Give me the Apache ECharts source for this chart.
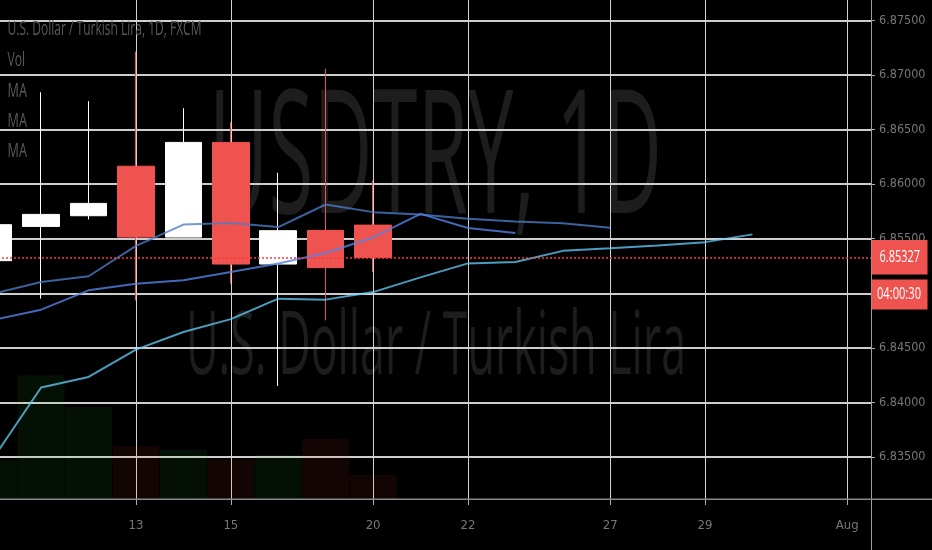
<!DOCTYPE html>
<html><head><meta charset="utf-8">
<script src="https://cdn.jsdelivr.net/npm/echarts@6/dist/echarts.min.js"></script>
<style>html,body{margin:0;padding:0;background:#000;overflow:hidden}#c{width:932px;height:550px}</style>
</head><body><div id="c"></div>
<script>
// ---- data ----
const categories = ['8','9','10','13','14','15','16','17','20','21','22','23','24','27','28','29','30','31','Aug'];
const shownLabels = ['13','15','20','22','27','29','Aug'];
// [open, close, low, high]
const candles = [
  [6.85299, 6.85629, 6.85180, 6.85760],
  [6.85613, 6.85723, 6.84951, 6.86843],
  [6.85711, 6.85824, 6.85677, 6.86761],
  [6.86165, 6.85515, 6.84935, 6.87216],
  [6.85515, 6.86383, 6.85515, 6.86697],
  [6.86383, 6.85268, 6.85088, 6.86568],
  [6.85268, 6.85574, 6.84150, 6.86105],
  [6.85577, 6.85235, 6.84752, 6.87058],
  [6.85625, 6.85327, 6.85195, 6.86034]
];
const volumes = [19.5, 62, 46, 26.5, 24.5, 19.5, 22, 30, 12];
const maA = [6.84998, 6.85103, 6.85156, 6.85435, 6.85630, 6.85645, 6.85607, 6.85814, 6.85744, 6.85722, 6.85684, 6.85657, 6.85643, 6.85601, null, null, null, null, null];
const maB = [6.84756, 6.84850, 6.85027, 6.85088, 6.85119, 6.85195, 6.85274, 6.85370, 6.85512, 6.85728, 6.85599, 6.85552, null, null, null, null, null, null, null];
const maC = [6.83495, 6.84136, 6.84233, 6.84484, 6.84645, 6.84763, 6.84951, 6.84942, 6.85011, 6.85146, 6.85274, 6.85286, 6.85389, 6.85412, 6.85439, 6.85469, 6.85540, null, null];
const yMin = 6.825, yMax = 6.88, yStep = 0.005;
const firstShownTick = 6.835;
const countdown = '04:00:30';
const titleText = 'U.S. Dollar / Turkish Lira, 1D, FXCM';
const legendTexts = ['Vol', 'MA', 'MA', 'MA'];
const watermark1 = 'USDTRY, 1D';
const watermark2 = 'U.S. Dollar / Turkish Lira';

// ---- chart ----
const chart = echarts.init(document.getElementById('c'), null, {renderer: 'canvas'});
const AXIS_FONT = "'Liberation Sans Narrow','DejaVu Sans Condensed','Roboto Condensed',sans-serif";
const showIdx = (i) => shownLabels.indexOf(categories[i]) >= 0;
const yTickColors = ['rgba(0,0,0,0)', 'rgba(0,0,0,0)'].concat(Array(12).fill('#cdcdcd'));
const RED = '#ef5350';
const lastPrice = candles[candles.length - 1][1];

const option = {
  backgroundColor: '#000',
  animation: false,
  grid: [
    {left: -30, right: 61, top: -34, bottom: -16.05, outerBoundsMode: 'none'},
    {left: -30, right: 61, top: 0, bottom: 51, outerBoundsMode: 'none'}
  ],
  xAxis: [
    {type: 'category', gridIndex: 0, data: categories, boundaryGap: true,
     axisLine: {show: false}, axisTick: {show: false}, axisLabel: {show: false}, splitLine: {show: false}},
    {type: 'category', gridIndex: 1, data: categories, boundaryGap: true,
     axisLine: {show: false},
     axisTick: {show: true, alignWithLabel: true, interval: (i) => showIdx(i), length: 6, lineStyle: {color: '#b0b0b0'}},
     axisLabel: {interval: (i) => showIdx(i), color: '#777', fontSize: 13, fontFamily: AXIS_FONT, margin: 20},
     splitLine: {show: true, alignWithLabel: true, interval: (i) => showIdx(i), lineStyle: {color: '#d2d2d2', width: 1}}}
  ],
  yAxis: [
    {type: 'value', gridIndex: 0, position: 'right', min: yMin, max: yMax, interval: yStep,
     axisLine: {show: false},
     axisTick: {show: true, length: 4, lineStyle: {color: '#b0b0b0'}},
     axisLabel: {margin: 8, color: '#777', fontSize: 12.5, fontFamily: AXIS_FONT,
                 formatter: (v) => (v < firstShownTick - yStep * 0.1 ? '' : v.toFixed(5))},
     splitLine: {show: true, lineStyle: {color: yTickColors, width: 2}}},
    {type: 'value', gridIndex: 1, min: 0, max: 250, show: false}
  ],
  series: [
    {type: 'bar', xAxisIndex: 1, yAxisIndex: 1, silent: true, barCategoryGap: '1%', z: 1,
     data: volumes.map((v, i) => ({value: v, itemStyle: {color: candles[i][1] >= candles[i][0] ? 'rgba(40,230,40,0.07)' : 'rgba(255,70,70,0.08)'}}))},
    {type: 'candlestick', xAxisIndex: 0, yAxisIndex: 0, data: candles, barWidth: 37, silent: true,
     itemStyle: {color: '#ffffff', color0: RED, borderColor: '#ffffff', borderColor0: RED, borderWidth: 1}},
    {type: 'line', xAxisIndex: 0, yAxisIndex: 0, data: maA, showSymbol: false, silent: true,
     lineStyle: {width: 2, color: 'rgba(75,125,200,0.78)'},
     markLine: {symbol: ['none', 'none'], silent: true, animation: false, precision: 5, label: {show: false},
                lineStyle: {color: '#ff3b3b', type: [2, 2], width: 1.6, opacity: 1},
                emphasis: {disabled: true},
                data: [{yAxis: lastPrice, lineStyle: {color: '#ff3b3b', type: [2, 2], width: 1.6}}]}},
    {type: 'line', xAxisIndex: 0, yAxisIndex: 0, data: maB, showSymbol: false, silent: true,
     lineStyle: {width: 2, color: 'rgba(85,130,230,0.8)'}},
    {type: 'line', xAxisIndex: 0, yAxisIndex: 0, data: maC, showSymbol: false, silent: true,
     lineStyle: {width: 2, color: 'rgba(100,210,255,0.75)'}}
  ]
};
chart.setOption(option);

// ---- overlay texts (fitted widths) ----
const mctx = document.createElement('canvas').getContext('2d');
function fitX(text, font, w) { mctx.font = font; const m = mctx.measureText(text).width; return m > 0 ? w / m : 1; }
function txt(id, text, x, y, w, size, fill, z, weight) {
  const font = (weight || 'normal') + ' ' + size + "px 'Open Sans'";
  return {type: 'text', id: id, x: x, y: y, scaleX: fitX(text, font, w), z: z, silent: true,
          style: {text: text, font: font, fill: fill, align: 'left', verticalAlign: 'middle'}};
}
const py = chart.convertToPixel({yAxisIndex: 0}, lastPrice);
const g = [
  txt('wm1', watermark1, 209, 164, 453, 172, '#1d1d1d', -5),
  txt('wm2', watermark2, 186, 349, 500, 87, '#1d1d1d', -5),
  txt('title', titleText, 7.5, 29.5, 194, 20, '#5a5a5a', 50),
  txt('vol', legendTexts[0], 7.5, 60, 17.7, 20, '#5a5a5a', 50),
  txt('ma1', legendTexts[1], 7.5, 91, 19.4, 20, '#5a5a5a', 50),
  txt('ma2', legendTexts[2], 7.5, 121, 19.4, 20, '#5a5a5a', 50),
  txt('ma3', legendTexts[3], 7.5, 151, 19.4, 20, '#5a5a5a', 50),
  {type: 'rect', id: 'mask', z: 30, silent: true, shape: {x: 872, y: 502, width: 10, height: 20}, style: {fill: '#000'}},
  {type: 'line', id: 'sepV', z: 40, silent: true, shape: {x1: 871.5, y1: 0, x2: 871.5, y2: 550}, style: {stroke: '#a0a0a0', lineWidth: 1}},
  {type: 'line', id: 'sepH', z: 40, silent: true, shape: {x1: 0, y1: 499.2, x2: 932, y2: 499.2}, style: {stroke: '#8a8a8a', lineWidth: 1.5}},
  {type: 'rect', id: 'pbox', z: 60, silent: true, shape: {x: 871.5, y: py - 17.5, width: 56, height: 34.5}, style: {fill: RED}},
  txt('ptxt', lastPrice.toFixed(5), 879.5, py, 40.5, 17, '#ffffff', 61),
  {type: 'rect', id: 'cbox', z: 60, silent: true, shape: {x: 871.5, y: py + 22, width: 56, height: 30}, style: {fill: RED}},
  txt('ctxt', countdown, 877, py + 37, 44, 17, '#ffffff', 61)
];
chart.setOption({graphic: g});
</script></body></html>
